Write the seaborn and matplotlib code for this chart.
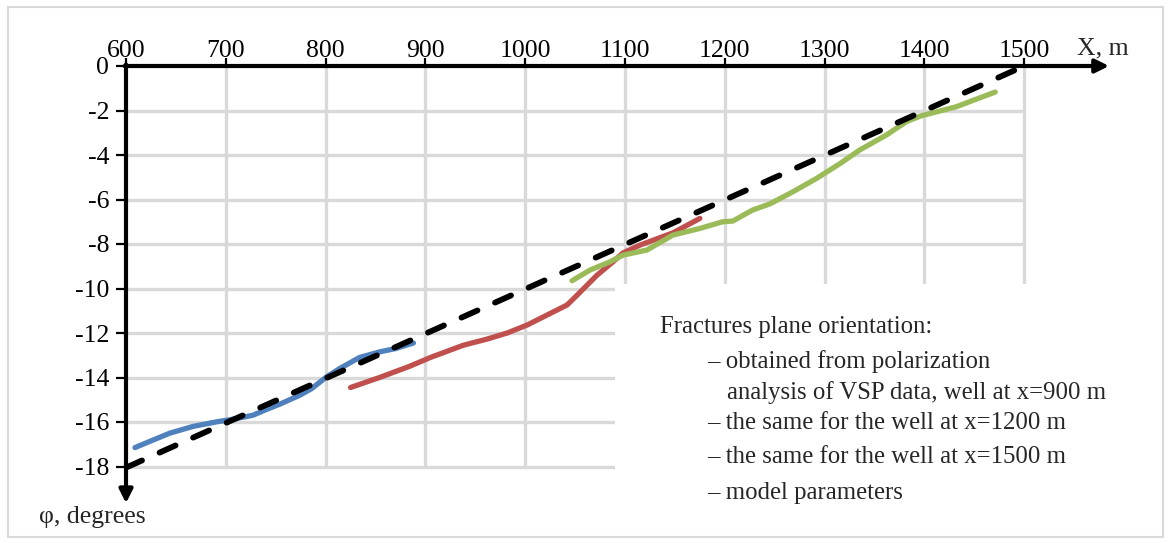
import matplotlib
matplotlib.use("Agg")
import matplotlib.pyplot as plt
import seaborn as sns
import pandas as pd
from matplotlib.patches import Rectangle

# ---- data ----
x_ticks = [600, 700, 800, 900, 1000, 1100, 1200, 1300, 1400, 1500]
y_ticks = [0, -2, -4, -6, -8, -10, -12, -14, -16, -18]

well900_x = [609, 625, 644, 667, 691, 704, 727, 740, 754, 764, 774, 786, 801, 814, 834,
             854, 870, 888]
well900_y = [-17.15, -16.85, -16.5, -16.2, -15.99, -15.9, -15.7, -15.45, -15.2, -15.0,
             -14.8, -14.5, -13.97, -13.6, -13.1, -12.85, -12.7, -12.45]

well1200_x = [825, 854, 884, 905, 938, 962, 982, 1002, 1018, 1042, 1052, 1072, 1088,
              1098, 1115, 1148, 1175]
well1200_y = [-14.45, -14.0, -13.5, -13.1, -12.55, -12.27, -12.0, -11.64, -11.28, -10.74,
              -10.3, -9.4, -8.8, -8.4, -8.05, -7.5, -6.85]

well1500_x = [1047, 1065, 1085, 1098, 1122, 1148, 1175, 1198, 1208, 1228, 1245, 1268,
              1292, 1316, 1335, 1362, 1382, 1396, 1432, 1471]
well1500_y = [-9.65, -9.17, -8.8, -8.5, -8.27, -7.6, -7.3, -7.0, -6.97, -6.47, -6.2,
              -5.66, -5.05, -4.37, -3.78, -3.1, -2.5, -2.25, -1.83, -1.17]

model_x = [600, 1500]
model_y = [-18.05, 0.0]

legend_title = "Fractures plane orientation:"
legend_lines = ["– obtained from polarization",
                "  analysis of VSP data, well at x=900 m",
                "– the same for the well at x=1200 m",
                "– the same for the well at x=1500 m",
                "– model parameters"]

# ---- style ----
sns.set_style("white")
plt.rcParams['font.family'] = ['Liberation Serif', 'DejaVu Serif']
FS = 18.5
LFS = 17.8

W, H = 1168, 543
fig = plt.figure(figsize=(W / 100, H / 100), dpi=100)
fig.patch.set_facecolor("white")

XMIN, XMAX = 600, 1590
YMIN, YMAX = -19.7, 0.0
left_px, top_px = 126, 66
xscale = 0.998   # px per metre
yscale = 22.25   # px per degree
right_px = left_px + (XMAX - XMIN) * xscale
bottom_px = top_px + (YMAX - YMIN) * yscale
ax = fig.add_axes([left_px / W, 1 - bottom_px / H,
                   (right_px - left_px) / W, (bottom_px - top_px) / H])
ax.set_xlim(XMIN, XMAX)
ax.set_ylim(YMIN, YMAX)
ax.set_facecolor("none")
for s in ax.spines.values():
    s.set_visible(False)

# grid (limited to the labelled region)
grid_c = "#D9D9D9"
ax.hlines(y_ticks[1:], 600, 1500, color=grid_c, lw=2.4, zorder=1)
ax.vlines(x_ticks[1:], -18, 0, color=grid_c, lw=2.4, zorder=1)

# white legend area covering the grid
ax.add_patch(Rectangle((1090, YMIN), 600, -9.8 - YMIN, facecolor="white",
                       edgecolor="none", zorder=1.5, clip_on=False))

# ---- series ----
def series(xs, ys):
    return pd.DataFrame({"x": xs, "y": ys})

LW = 3.8
sns.lineplot(data=series(well900_x, well900_y), x="x", y="y", ax=ax, color="#4F81BD",
             lw=LW, estimator=None, sort=False, zorder=3, solid_capstyle="round")
sns.lineplot(data=series(well1200_x, well1200_y), x="x", y="y", ax=ax, color="#C0504D",
             lw=LW, estimator=None, sort=False, zorder=3, solid_capstyle="round")
sns.lineplot(data=series(well1500_x, well1500_y), x="x", y="y", ax=ax, color="#9BBB59",
             lw=LW, estimator=None, sort=False, zorder=3, solid_capstyle="round")
sns.lineplot(data=series(model_x, model_y), x="x", y="y", ax=ax, color="black",
             lw=4.2, estimator=None, sort=False, zorder=4)
ml = ax.lines[-1]
ml.set_dashes((3.0, 3.3))
ml.set_dash_capstyle("round")

# ---- axes with arrows ----
arrow_kw = dict(arrowstyle="-|>", lw=3.0, color="black", mutation_scale=20,
                shrinkA=0, shrinkB=0)
ax.annotate("", xy=(1585, 0), xytext=(598.5, 0), arrowprops=arrow_kw,
            annotation_clip=False, zorder=5)
ax.annotate("", xy=(600, -19.65), xytext=(600, 0.07), arrowprops=arrow_kw,
            annotation_clip=False, zorder=5)

# ticks
ax.xaxis.tick_top()
ax.set_xticks(x_ticks)
ax.set_xticklabels([str(v) for v in x_ticks])
ax.set_yticks(y_ticks)
ax.set_yticklabels([str(v) for v in y_ticks])
ax.tick_params(axis="x", direction="out", length=6, width=1.6, pad=-3, labelsize=FS,
               top=True, bottom=False, colors="black")
ax.tick_params(axis="y", direction="out", length=7, width=1.6, pad=5, labelsize=FS,
               left=True, colors="black")
ax.set_xlabel("")
ax.set_ylabel("")

# axis titles
fig.text(1103 / W, 1 - 48 / H, "X, m", ha="center", va="center", fontsize=FS)
fig.text(92 / W, 1 - 517 / H, "φ, degrees", ha="center", va="center", fontsize=FS)

# legend text
fig.text(660 / W, 1 - 327 / H, legend_title, ha="left", va="center", fontsize=LFS)
ys_px = [362, 393, 423, 457, 493]
for t, yp in zip(legend_lines, ys_px):
    if t.startswith("  "):
        fig.text(727 / W, 1 - yp / H, t.strip(), ha="left", va="center", fontsize=LFS)
    else:
        fig.text(707 / W, 1 - yp / H, t, ha="left", va="center", fontsize=LFS)

# outer chart border
fig.patches.append(Rectangle((8 / W, 1 - 537 / H), (1163 - 8) / W, (537 - 7) / H,
                             transform=fig.transFigure, facecolor="none",
                             edgecolor="#D9D9D9", lw=1.5))

fig.savefig("out.png", dpi=100)
